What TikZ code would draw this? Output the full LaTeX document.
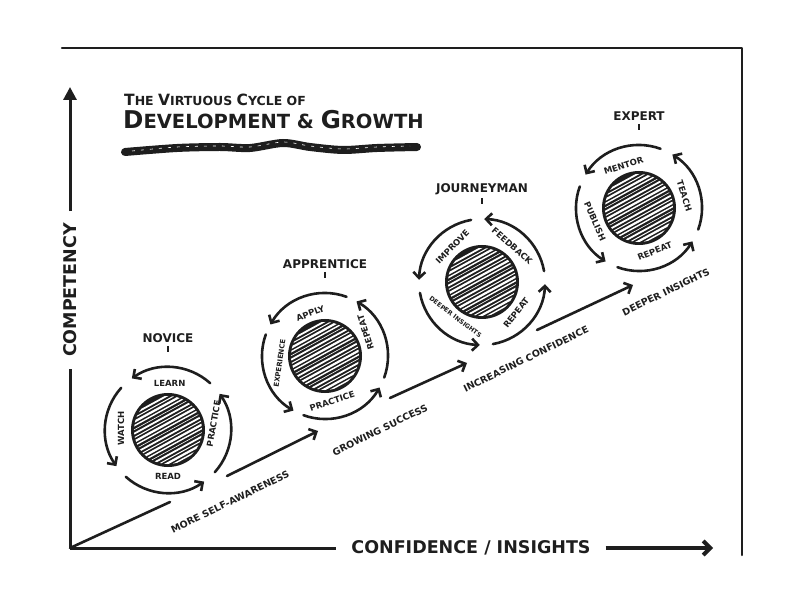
\documentclass[tikz,border=0pt]{standalone}
\usepackage{fontspec}
\setmainfont{DejaVu Sans}
\usepackage{tikz}
\usetikzlibrary{positioning, arrows.meta, calc}
\definecolor{Ink}{HTML}{1E1E1E}

\begin{document}
\begin{tikzpicture}[x=1pt, y=1pt,
    every node/.style={font=\bfseries, text=Ink},
    core/.style={circle, draw=Ink, line width=2pt, fill=Ink, minimum size=72pt, inner sep=0pt},
    ring/.style={-{Straight Barb[length=6pt, width=12pt]}, line width=2.6pt, Ink, line cap=round},
    cyc/.style={font=\bfseries\fontsize{8.5}{9}\selectfont, inner sep=0pt},
    cycsmall/.style={font=\bfseries\fontsize{6.3}{7}\selectfont, inner sep=0pt},
    stage/.style={font=\bfseries\fontsize{12}{13}\selectfont, inner sep=0pt},
    tick/.style={line width=2pt, Ink},
    diag/.style={line width=2.6pt, Ink, line cap=round},
    diagarr/.style={diag, -{Straight Barb[length=6pt, width=12pt]}},
    diaglbl/.style={font=\bfseries\fontsize{9.5}{10}\selectfont, rotate=26, inner sep=0pt},
    axis/.style={line width=3pt, Ink},
    axislbl/.style={font=\bfseries\fontsize{17.5}{18}\selectfont, inner sep=0pt},
]
\useasboundingbox (0,0) rectangle (800,608);

% Frame
\draw[line width=2.5pt, Ink, line cap=round, line join=round] (62,560) -- (742,560) -- (742,53);

% Axes
\coordinate (origin) at (70,60);
\coordinate (ytop) at (70,521);
\coordinate (xend) at (713,60);
\node[axislbl, rotate=90, outer sep=12pt] (ylbl) at (70,318) {COMPETENCY};
\node[axislbl, outer sep=15pt] (xlbl) at (471,60) {CONFIDENCE / INSIGHTS};
\draw[axis] (origin) -- (ylbl.west);
\draw[axis, -{Triangle[length=13pt, width=13pt]}] (ylbl.east) -- (ytop);
\draw[axis] (origin) -- (xlbl.west);
\draw[axis, line width=4pt, -{Straight Barb[length=7pt, width=14pt]}] (xlbl.east) -- (xend);

% Title
\node[anchor=base west, inner sep=0pt, font=\bfseries\fontsize{12.5}{13}\selectfont] (title) at (124,502)
  {{\fontsize{15.5}{16}\selectfont T}HE {\fontsize{15.5}{16}\selectfont V}IRTUOUS {\fontsize{15.5}{16}\selectfont C}YCLE OF};
\node[anchor=base west, inner sep=0pt, font=\bfseries\fontsize{19.5}{20}\selectfont] (subtitle) at (123,479)
  {{\fontsize{24.5}{25}\selectfont D}EVELOPMENT \& {\fontsize{24.5}{25}\selectfont G}ROWTH};
\draw[line width=8pt, Ink, line cap=round] plot[smooth] coordinates
  {(125,456) (177,460) (220,461) (250,460) (283,465) (310,461) (343,458) (377,460) (417,461)};
\draw[white, line width=0.6pt, dash pattern=on 3pt off 6pt] plot[smooth] coordinates
  {(132,457) (177,461) (220,462) (250,461) (283,466) (310,462) (343,459) (377,461) (410,462)};

% Cores
\node[core] (novice) at (168,178) {};
\node[core] (apprentice) at (325,252) {};
\node[core] (journeyman) at (482,326) {};
\node[core] (expert) at (639,400) {};
\foreach \c in {novice, apprentice, journeyman, expert} {
  \begin{scope}[shift={(\c)}, rotate=28]
    \clip (0,0) circle (34);
    \foreach \y [count=\k, evaluate=\k as \w using {0.6+0.4*mod(\k*7,5)}] in {-33,-29.5,...,33}
      \draw[white, line width=\w pt] (-40,\y) -- (40,\y+1);
  \end{scope}
}

% Novice
\foreach \a in {48,138,228,318}
  \draw[ring] ($(novice)+(\a:63)$) arc[start angle=\a, delta angle=77, radius=63];
\node[cyc] (n-learn) at ($(novice)+(88:47)$) {LEARN};
\node[cyc, rotate=90] (n-watch) at ($(novice)+(178:47)$) {WATCH};
\node[cyc] (n-read) at ($(novice)+(270:46)$) {READ};
\node[cyc, rotate=80] (n-practice) at ($(novice)+(8:46)$) {PRACTICE};
\node[stage, above=50pt of novice] (novicelbl) {NOVICE};
\draw[tick] ([yshift=-3pt]novicelbl.south) -- ++(0,-6);

% Apprentice
\foreach \a in {70,160,250,340}
  \draw[ring] ($(apprentice)+(\a:63)$) arc[start angle=\a, delta angle=80, radius=63];
\node[cyc, rotate=20] (a-apply) at ($(apprentice)+(109:45)$) {APPLY};
\node[cycsmall, font=\bfseries\fontsize{7}{8}\selectfont, rotate=82] (a-experience) at ($(apprentice)+(189:46)$) {EXPERIENCE};
\node[cyc, rotate=18] (a-practice) at ($(apprentice)+(279:46)$) {PRACTICE};
\node[cyc, rotate=108] (a-repeat) at ($(apprentice)+(30:47)$) {REPEAT};
\node[stage, above=50pt of apprentice] (apprenticelbl) {APPRENTICE};
\draw[tick] ([yshift=-3pt]apprenticelbl.south) -- ++(0,-6);

% Journeyman
\foreach \a in {10,100,190,280}
  \draw[ring] ($(journeyman)+(\a:63)$) arc[start angle=\a, delta angle=78, radius=63];
\node[cyc, rotate=46] (j-improve) at ($(journeyman)+(130:46)$) {IMPROVE};
\node[cyc, rotate=-41] (j-feedback) at ($(journeyman)+(50:47)$) {FEEDBACK};
\node[cycsmall, rotate=-37] (j-insights) at ($(journeyman)+(233:44)$) {DEEPER INSIGHTS};
\node[cyc, rotate=52] (j-repeat) at ($(journeyman)+(318:46)$) {REPEAT};
\node[stage, above=50pt of journeyman] (journeymanlbl) {JOURNEYMAN};
\draw[tick] ([yshift=-3pt]journeymanlbl.south) -- ++(0,-6);

% Expert
\foreach \a in {70,160,250,340}
  \draw[ring] ($(expert)+(\a:63)$) arc[start angle=\a, delta angle=78, radius=63];
\node[cyc, rotate=18] (e-mentor) at ($(expert)+(110:45)$) {MENTOR};
\node[cyc, rotate=-72] (e-teach) at ($(expert)+(15:47)$) {TEACH};
\node[cyc, rotate=-66] (e-publish) at ($(expert)+(197:46)$) {PUBLISH};
\node[cyc, rotate=22] (e-repeat) at ($(expert)+(290:46)$) {REPEAT};
\node[stage, above=50pt of expert] (expertlbl) {EXPERT};
\draw[tick] ([yshift=-3pt]expertlbl.south) -- ++(0,-6);

% Growth line
\coordinate (d1) at (170,106);
\coordinate (d2) at (227,132);
\coordinate (d3) at (318,177);
\coordinate (d4) at (390,210);
\coordinate (d5) at (467,245);
\coordinate (d6) at (537,278);
\coordinate (d7) at (633,323);
\draw[diag] (origin) -- (d1);
\draw[diagarr] (d2) -- (d3);
\draw[diagarr] (d4) -- (d5);
\draw[diagarr] (d6) -- (d7);
\node[diaglbl] (aware) at (230,106) {MORE SELF-AWARENESS};
\node[diaglbl] (success) at (380,178) {GROWING SUCCESS};
\node[diaglbl] (confidence) at (526,249) {INCREASING CONFIDENCE};
\node[diaglbl] (insights) at (666,316) {DEEPER INSIGHTS};

\end{tikzpicture}
\end{document}
